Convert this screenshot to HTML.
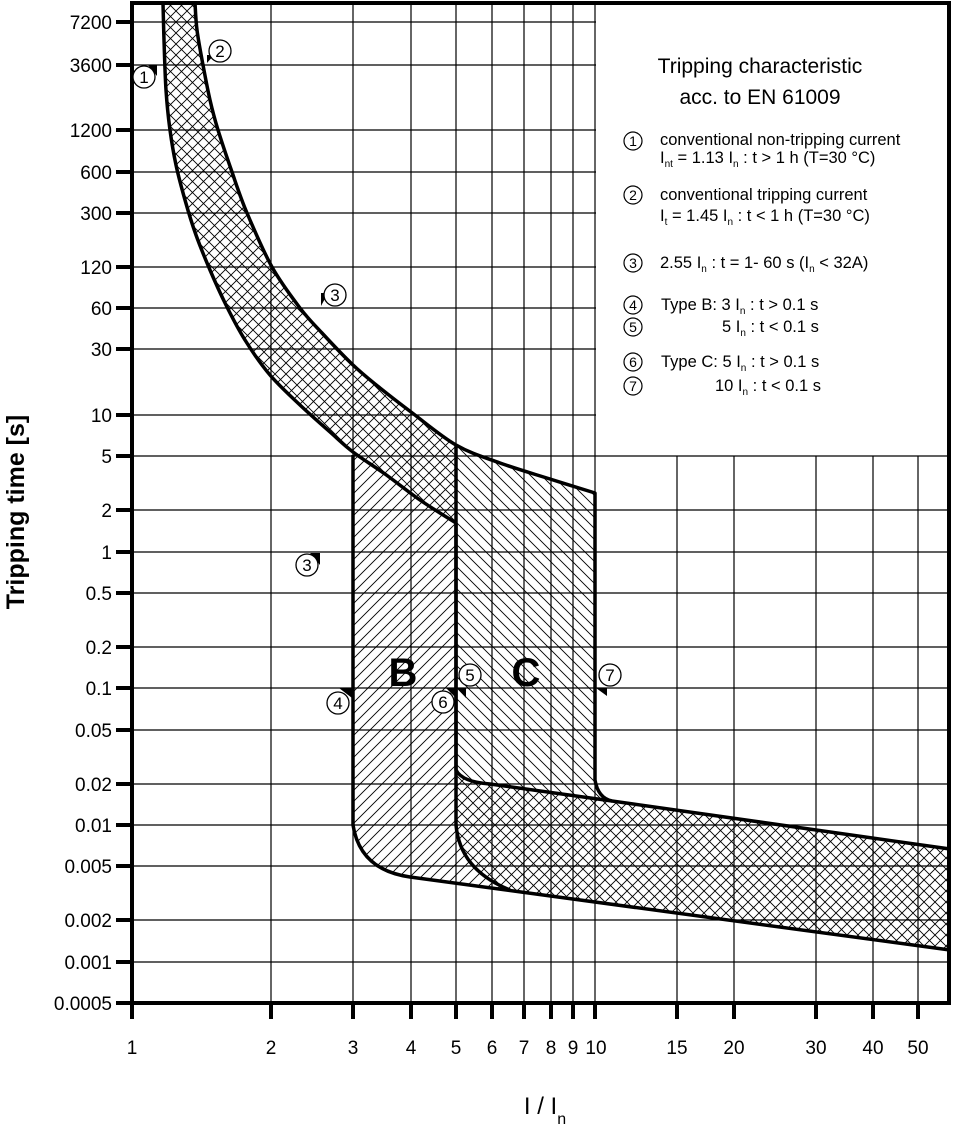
<!DOCTYPE html>
<html><head><meta charset="utf-8">
<style>
html,body{margin:0;padding:0;background:#fff}
svg{display:block}
text{font-family:"Liberation Sans Narrow","Liberation Sans",sans-serif;fill:#000}
</style></head><body>
<svg width="956" height="1131" viewBox="0 0 956 1131" xmlns="http://www.w3.org/2000/svg">
<defs>
<pattern id="cross" patternUnits="userSpaceOnUse" width="11" height="11">
<path d="M0,0L11,11M11,0L0,11" stroke="#000" stroke-width="0.9"/>
</pattern>
<pattern id="fw" patternUnits="userSpaceOnUse" width="11" height="11">
<path d="M-1,12L12,-1M-1,1L1,-1M10,12L12,10" stroke="#000" stroke-width="0.9"/>
</pattern>
<pattern id="bw" patternUnits="userSpaceOnUse" width="11" height="11">
<path d="M-1,-1L12,12M10,-1L12,1M-1,10L1,12" stroke="#000" stroke-width="0.9"/>
</pattern>
</defs>

<g stroke="#000" stroke-width="1.2">
<path d="M132,22H950M132,65H950M132,130H950M132,172H950M132,213H950M132,267H950M132,308H950M132,349H950M132,415H950" />
</g>
<rect x="596" y="5" width="352" height="450" fill="#fff"/>
<g stroke="#000" stroke-width="1.2">
<path d="M132,456H950M132,510H950M132,552H950M132,593H950M132,647H950M132,688H950M132,730H950M132,784H950M132,825H950M132,866H950M132,920H950M132,962H950"/>
<path d="M271,3V1003M353,3V1003M411,3V1003M456,3V1003M492,3V1003M524,3V1003M551,3V1003M573,3V1003M595,3V1003"/>
<path d="M677,456V1003M734,456V1003M816,456V1003M873,456V1003M918,456V1003"/>
</g>

<path id="breg" d="" fill="url(#fw)"/>
<path id="creg" d="" fill="url(#bw)"/>
<path id="band" d="" fill="url(#cross)"/>

<g fill="none" stroke="#000" stroke-width="3.5" stroke-linejoin="round">
<path id="lc" d=""/>
<path id="rc" d=""/>
<path d="M353,455 L353,825 Q360,870 410,877 L950,950"/>
<path d="M456,445 L456,770 Q462,782 490,784 L612,801"/>
<path d="M456,523 L456,825 Q460,870 510,890"/>
</g>

<rect x="132" y="3" width="817" height="1000" fill="none" stroke="#000" stroke-width="4"/>

<g stroke="#000" stroke-width="4">
<path d="M116,22H132M116,65H132M116,130H132M116,172H132M116,213H132M116,267H132M116,308H132M116,349H132M116,415H132M116,456H132M116,510H132M116,552H132M116,593H132M116,647H132M116,688H132M116,730H132M116,784H132M116,825H132M116,866H132M116,920H132M116,962H132M116,1003H132"/>
<path d="M132,1003V1019M271,1003V1019M353,1003V1019M411,1003V1019M456,1003V1019M492,1003V1019M524,1003V1019M551,1003V1019M573,1003V1019M595,1003V1019M677,1003V1019M734,1003V1019M816,1003V1019M873,1003V1019M918,1003V1019"/>
</g>
<g font-size="19" text-anchor="end">
<text x="112" y="29">7200</text><text x="112" y="72">3600</text><text x="112" y="137">1200</text>
<text x="112" y="179">600</text><text x="112" y="220">300</text><text x="112" y="274">120</text>
<text x="112" y="315">60</text><text x="112" y="356">30</text><text x="112" y="422">10</text>
<text x="112" y="463">5</text><text x="112" y="517">2</text><text x="112" y="559">1</text>
<text x="112" y="600">0.5</text><text x="112" y="654">0.2</text><text x="112" y="695">0.1</text>
<text x="112" y="737">0.05</text><text x="112" y="791">0.02</text><text x="112" y="832">0.01</text>
<text x="112" y="873">0.005</text><text x="112" y="927">0.002</text><text x="112" y="969">0.001</text>
<text x="112" y="1010">0.0005</text>
</g>
<g font-size="19" text-anchor="middle">
<text x="132" y="1054">1</text><text x="271" y="1054">2</text><text x="353" y="1054">3</text>
<text x="411" y="1054">4</text><text x="456" y="1054">5</text><text x="492" y="1054">6</text>
<text x="524" y="1054">7</text><text x="551" y="1054">8</text><text x="573" y="1054">9</text>
<text x="596" y="1054">10</text><text x="677" y="1054">15</text><text x="734" y="1054">20</text>
<text x="816" y="1054">30</text><text x="873" y="1054">40</text><text x="918" y="1054">50</text>
</g>
<text x="545" y="1114" font-size="24" text-anchor="middle">I / I<tspan font-size="16" dy="10">n</tspan></text>
<text transform="translate(24,512) rotate(-90)" font-size="25" font-weight="bold" text-anchor="middle" style="font-family:'Liberation Sans',sans-serif">Tripping time [s]</text>

<text x="403" y="686" font-size="40" font-weight="bold" text-anchor="middle" style="font-family:'Liberation Sans',sans-serif">B</text>
<text x="526" y="686" font-size="40" font-weight="bold" text-anchor="middle" style="font-family:'Liberation Sans',sans-serif">C</text>

<g fill="#000">
<path d="M148,65H157V76Z"/><path d="M207,63V55L214,55Z"/><path d="M321,306V293L328,293Z"/>
<path d="M310,553H320V565Z"/><path d="M339,688H352V698Z"/><path d="M457,688H466V698Z"/>
<path d="M446,688H456V698Z"/><path d="M596,688H607V696Z"/>
</g>
<g fill="#fff" stroke="#000" stroke-width="1.3">
<circle cx="144" cy="77" r="11"/><circle cx="220" cy="51" r="11"/><circle cx="335" cy="295" r="11"/>
<circle cx="307" cy="565" r="11"/><circle cx="338" cy="703" r="11"/><circle cx="470" cy="675" r="11"/>
<circle cx="443" cy="702" r="11"/><circle cx="610" cy="675" r="11"/>
</g>
<g font-size="17" text-anchor="middle">
<text x="144" y="83">1</text><text x="220" y="57">2</text><text x="335" y="301">3</text>
<text x="307" y="571">3</text><text x="338" y="709">4</text><text x="470" y="681">5</text>
<text x="443" y="708">6</text><text x="610" y="681">7</text>
</g>

<g font-size="21" text-anchor="middle" style="font-family:'Liberation Sans',sans-serif">
<text x="760" y="73">Tripping characteristic</text>
<text x="760" y="104">acc. to EN 61009</text>
</g>
<g fill="#fff" stroke="#000" stroke-width="1.2">
<circle cx="633" cy="141" r="9"/><circle cx="633" cy="195" r="9"/><circle cx="633" cy="263" r="9"/>
<circle cx="633" cy="305" r="9"/><circle cx="633" cy="327" r="9"/><circle cx="633" cy="362" r="9"/>
<circle cx="633" cy="386" r="9"/>
</g>
<g font-size="14" text-anchor="middle">
<text x="633" y="146">1</text><text x="633" y="200">2</text><text x="633" y="268">3</text>
<text x="633" y="310">4</text><text x="633" y="332">5</text><text x="633" y="367">6</text><text x="633" y="391">7</text>
</g>
<g font-size="16.5">
<text x="660" y="145">conventional non-tripping current</text>
<text x="660" y="163">I<tspan font-size="10" dy="4">nt</tspan><tspan dy="-4">  = 1.13 I</tspan><tspan font-size="10" dy="4">n</tspan><tspan dy="-4"> :  t &gt; 1 h   (T=30 °C)</tspan></text>
<text x="660" y="200">conventional tripping current</text>
<text x="660" y="221">I<tspan font-size="10" dy="4">t</tspan><tspan dy="-4">  = 1.45 I</tspan><tspan font-size="10" dy="4">n</tspan><tspan dy="-4"> :  t &lt; 1 h   (T=30 °C)</tspan></text>
<text x="660" y="268">2.55 I<tspan font-size="10" dy="4">n</tspan><tspan dy="-4">  : t = 1- 60 s (I</tspan><tspan font-size="10" dy="4">n</tspan><tspan dy="-4"> &lt; 32A)</tspan></text>
<text x="661" y="310">Type B: 3 I<tspan font-size="10" dy="4">n</tspan><tspan dy="-4"> :  t &gt; 0.1 s</tspan></text>
<text x="722" y="332">5 I<tspan font-size="10" dy="4">n</tspan><tspan dy="-4"> :  t &lt; 0.1 s</tspan></text>
<text x="661" y="367">Type C: 5 I<tspan font-size="10" dy="4">n</tspan><tspan dy="-4"> : t &gt; 0.1 s</tspan></text>
<text x="715" y="391">10 I<tspan font-size="10" dy="4">n</tspan><tspan dy="-4"> : t &lt; 0.1 s</tspan></text>
</g>
</svg>
<script>
function cr(p){var s="";for(var i=0;i<p.length-1;i++){var p0=p[Math.max(i-1,0)],p1=p[i],p2=p[i+1],p3=p[Math.min(i+2,p.length-1)];
var c1x=p1[0]+(p2[0]-p0[0])/6,c1y=p1[1]+(p2[1]-p0[1])/6,c2x=p2[0]-(p3[0]-p1[0])/6,c2y=p2[1]-(p3[1]-p1[1])/6;
s+=" C"+c1x.toFixed(1)+","+c1y.toFixed(1)+" "+c2x.toFixed(1)+","+c2y.toFixed(1)+" "+p2[0]+","+p2[1];}return s;}
var L=[[163,3],[164,40],[166,90],[170,130],[176,165],[185,200],[196,235],[210,270],[226,305],[245,340],[270,375],[300,405],[330,432],[353,452],[385,474],[420,500],[456,523]];
var R=[[195,3],[197,30],[203,65],[210,100],[218,130],[232,172],[247,213],[272,267],[300,308],[322,333],[353,365],[380,388],[411,412],[456,445],[500,463],[550,479],[595,493]];
var lcd="M163,3"+cr(L);
var Rr=R.slice().reverse();
var rcd="M195,3"+cr(R)+" L595,780 Q598,798 612,801 L950,849";
document.getElementById("lc").setAttribute("d",lcd);
document.getElementById("rc").setAttribute("d",rcd);
var R13=R.slice(0,14).reverse();
document.getElementById("band").setAttribute("d",lcd+" L456,445"+cr(R13)+" Z");
var Lb=L.slice(13);
document.getElementById("breg").setAttribute("d","M353,452"+cr(Lb)+" L456,770 Q462,782 490,784 L950,849 L950,950 L410,877 Q360,870 353,825 Z");
var Rc=R.slice(13);
document.getElementById("creg").setAttribute("d","M456,445"+cr(Rc)+" L595,780 Q598,798 612,801 L950,849 L950,950 L510,890 Q460,870 456,825 Z");
</script>
</body></html>
